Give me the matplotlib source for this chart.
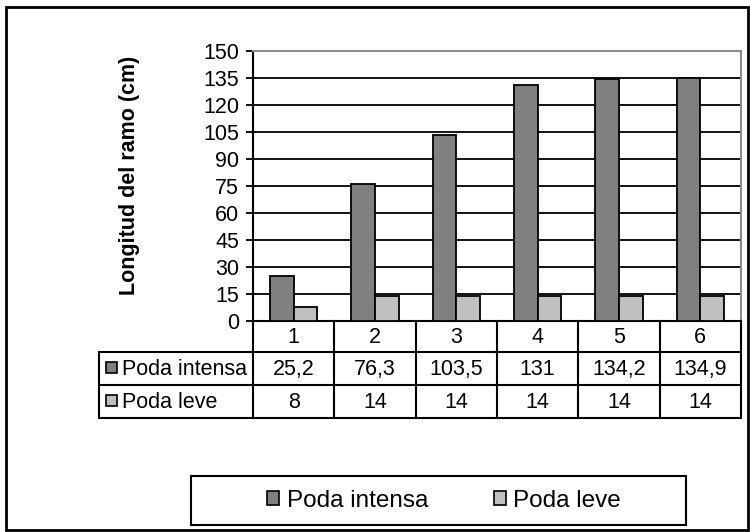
import matplotlib
matplotlib.use("Agg")
import matplotlib.pyplot as plt
from matplotlib.patches import Rectangle, Patch
from matplotlib.lines import Line2D
from matplotlib.transforms import blended_transform_factory

plt.rcParams['font.family'] = ['Liberation Sans', 'DejaVu Sans']

categories = ["1", "2", "3", "4", "5", "6"]
series_names = ["Poda intensa", "Poda leve"]
poda_intensa = [25.2, 76.3, 103.5, 131, 134.2, 134.9]
poda_leve = [8, 14, 14, 14, 14, 14]
y_ticks = list(range(0, 151, 15))
y_label = "Longitud del ramo (cm)"

colors = ["#808080", "#C0C0C0"]

W, H = 750, 532
def fx(x): return x / W
def fy(y): return 1 - y / H

fig = plt.figure(figsize=(7.5, 5.32), dpi=100)
ax = fig.add_axes([fx(253), fy(321), (741 - 253) / W, (321 - 51) / H])

xs = list(range(len(categories)))
w = 0.29
ax.bar([x - w / 2 for x in xs], poda_intensa, w, color=colors[0], edgecolor='black', linewidth=1.3, zorder=3)
ax.bar([x + w / 2 for x in xs], poda_leve, w, color=colors[1], edgecolor='black', linewidth=1.3, zorder=3)

ax.set_xlim(-0.5, len(categories) - 0.5)
ax.set_ylim(0, 150)
ax.set_yticks(y_ticks)
ax.set_xticks([])
ax.yaxis.grid(True, color='black', linewidth=1.3)
ax.set_axisbelow(True)
ax.tick_params(axis='y', direction='out', length=5, width=1.3, labelsize=15.5, pad=5)
for s in ['left', 'bottom']:
    ax.spines[s].set_color('black')
    ax.spines[s].set_linewidth(1.5)
for s in ['top', 'right']:
    ax.spines[s].set_color('#8c8c8c')
    ax.spines[s].set_linewidth(1.5)
    ax.spines[s].set_zorder(4)

fig.text(fx(130), fy(175), y_label, rotation=90, ha='center', va='center',
         fontsize=15.5, fontweight='bold')

# data table
tb = blended_transform_factory(ax.transData, fig.transFigure)
tf = fig.transFigure
lw = 1.5
row_y = [321, 352, 385, 418]
for y in row_y[1:]:
    fig.add_artist(Line2D([fx(99), fx(741)], [fy(y), fy(y)], color='black', lw=lw, transform=tf))
fig.add_artist(Line2D([fx(99), fx(99)], [fy(352), fy(418)], color='black', lw=lw, transform=tf))
for i in range(len(categories) + 1):
    fig.add_artist(Line2D([i - 0.5, i - 0.5], [fy(321), fy(418)], color='black', lw=lw, transform=tb))

for i, c in enumerate(categories):
    fig.text(i, fy((row_y[0] + row_y[1]) / 2 + 1), c, transform=tb, ha='center', va='center', fontsize=15.5)
def fmt(v):
    return f"{v:g}".replace('.', ',')
for r, vals in enumerate([poda_intensa, poda_leve]):
    yc = (row_y[r + 1] + row_y[r + 2]) / 2
    for i, v in enumerate(vals):
        fig.text(i, fy(yc + 1), fmt(v), transform=tb, ha='center', va='center', fontsize=15.5)
    fig.add_artist(Rectangle((fx(106), fy(yc + 4)), 11 / W, 11 / H, transform=tf,
                             facecolor=colors[r], edgecolor='black', lw=1.2))
    fig.text(fx(122), fy(yc + 1), series_names[r], transform=tf, ha='left', va='center', fontsize=15.5)

# legend
fig.add_artist(Rectangle((fx(191), fy(525)), (686 - 191) / W, (525 - 476) / H, transform=tf,
                         facecolor='white', edgecolor='black', lw=1.5))
handles = [Patch(facecolor=colors[k], edgecolor='black', linewidth=1.2) for k in range(2)]
fig.legend(handles, series_names, loc='center', bbox_to_anchor=(fx(444), fy(501)), ncol=2,
           frameon=False, fontsize=17.5, handlelength=0.5, handleheight=0.5, handletextpad=0.3,
           columnspacing=2.7)

# outer border
fig.add_artist(Rectangle((fx(6), fy(530)), (748 - 6) / W, (530 - 7) / H, transform=tf,
                         facecolor='none', edgecolor='black', lw=2))

fig.savefig("out.png", dpi=100)
